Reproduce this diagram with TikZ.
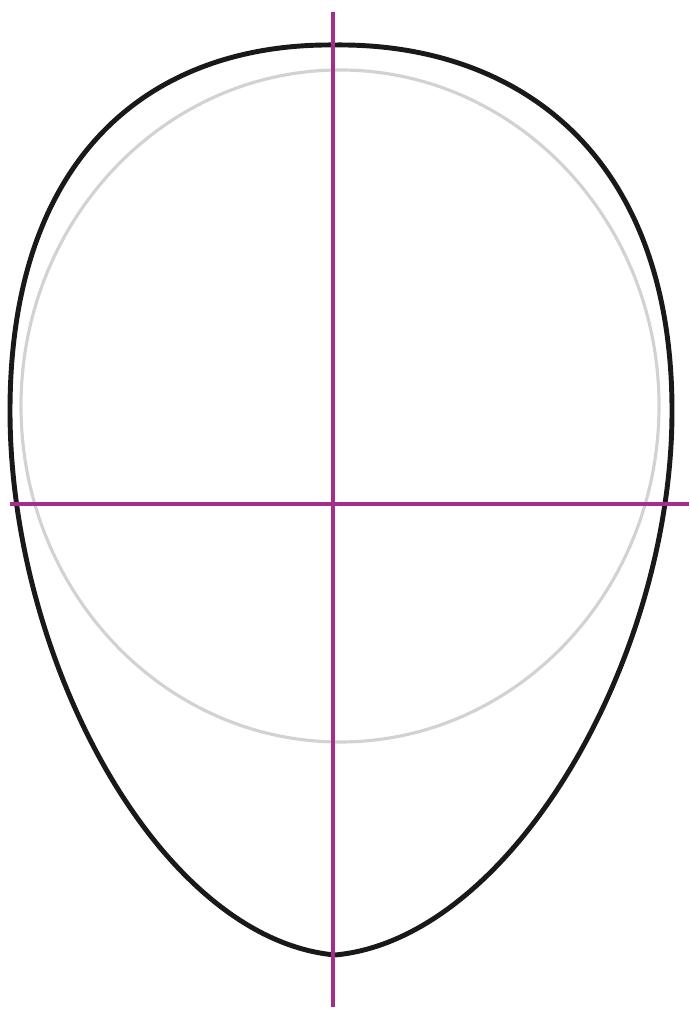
\documentclass[tikz,border=0pt]{standalone}
\usepackage{tikz}
\definecolor{guide}{RGB}{165,45,140}
\begin{document}
\begin{tikzpicture}[
  outline/.style={line width=1.4pt,black!90,line join=round},
  cranium/.style={line width=0.9pt,gray!35},
  axisline/.style={line width=1.1pt,guide}]
\useasboundingbox (0,0) rectangle (6.89,10.11);
\draw[cranium] (3.40,6.05) ellipse [x radius=3.19,y radius=3.36];
\draw[outline] (3.35,9.66)
  .. controls (1.55,9.68) and (0.10,8.60) .. (0.10,6.00)
  .. controls (0.10,3.50) and (1.60,0.72) .. (3.35,0.56)
  .. controls (5.10,0.72) and (6.72,3.50) .. (6.72,6.00)
  .. controls (6.72,8.60) and (5.15,9.68) .. cycle;
\coordinate (crown) at (3.33,9.99);
\coordinate (chin) at (3.33,0.04);
\coordinate (lear) at (0.10,5.07);
\coordinate (rear) at (6.89,5.07);
\draw[axisline] (crown) -- (chin);
\draw[axisline] (lear) -- (rear);
\end{tikzpicture}
\end{document}
